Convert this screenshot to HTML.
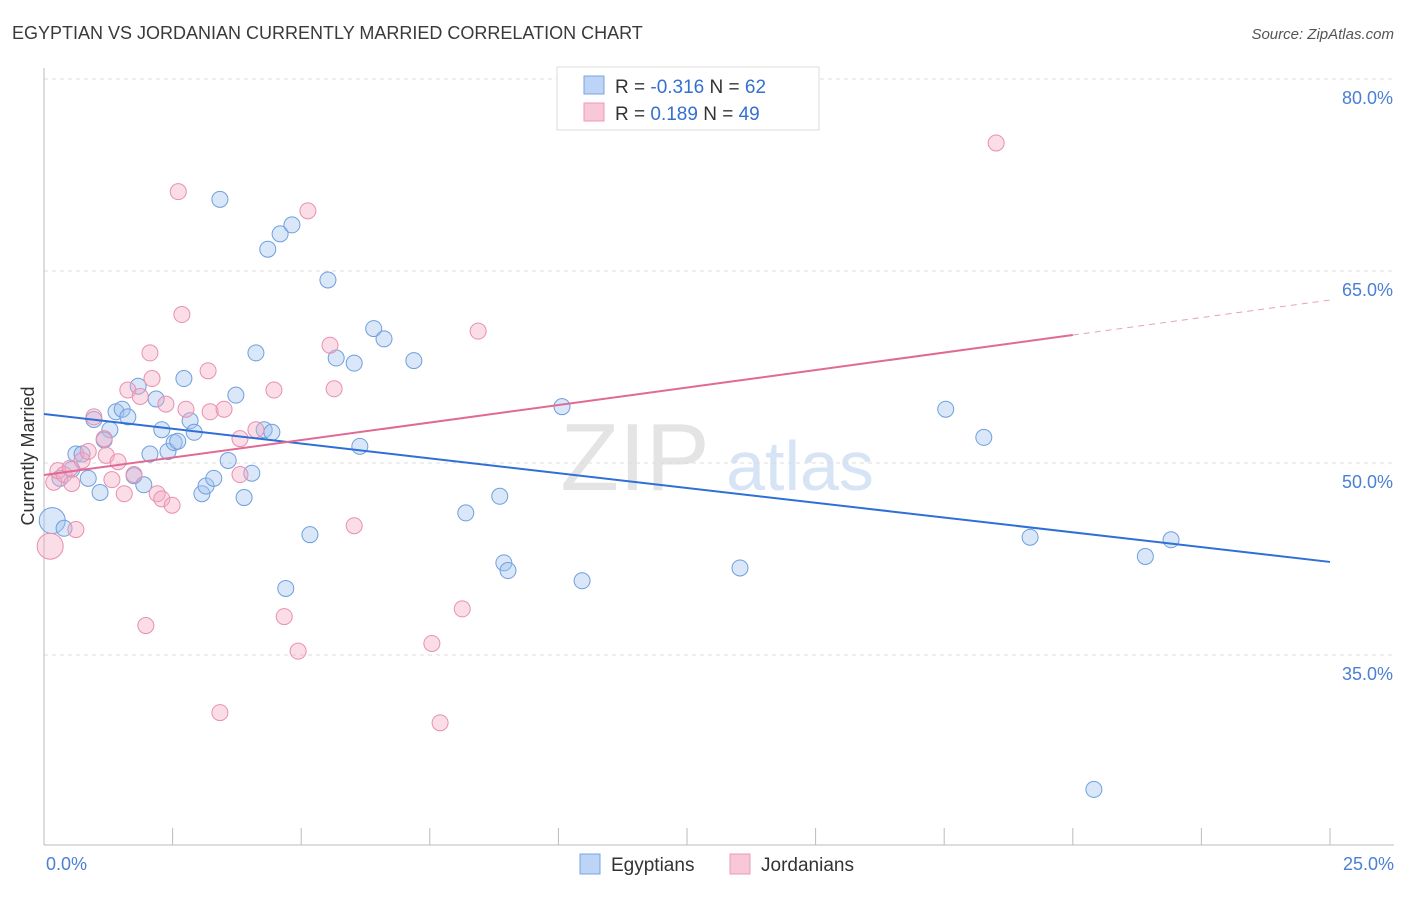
<!DOCTYPE html>
<html><head><meta charset="utf-8"><style>
body{margin:0;background:#fff;font-family:"Liberation Sans",sans-serif}
svg text{font-family:"Liberation Sans",sans-serif}
</style></head><body>
<svg id="chart" width="1406" height="892">
<text x="12" y="39" font-size="18" fill="#3a3a3a">EGYPTIAN VS JORDANIAN CURRENTLY MARRIED CORRELATION CHART</text>
<text x="1394" y="39" font-size="15" fill="#555" font-style="italic" text-anchor="end">Source: ZipAtlas.com</text>
<text x="635" y="490" font-size="96" fill="#e4e4e4" font-family="Liberation Serif" text-anchor="middle">ZIP</text>
<text x="800" y="490" font-size="70" fill="#d6e4f5" text-anchor="middle">atlas</text>
<text transform="translate(34,456) rotate(-90)" font-size="18" fill="#333" text-anchor="middle">Currently Married</text>
<g id="grid"></g><g id="axes"></g><g id="marks"></g>
<g>
<rect x="557" y="67" width="262" height="63" fill="#fff" stroke="#ddd"/>
<rect x="584" y="76" width="20" height="18" fill="#bcd4f5" stroke="#7aa5e0"/>
<rect x="584" y="103" width="20" height="18" fill="#f8c8d8" stroke="#ec9ab8"/>
<text x="615" y="93" font-size="19" fill="#333">R = <tspan fill="#3470d0">-0.316</tspan>   N = <tspan fill="#3470d0">62</tspan></text>
<text x="615" y="120" font-size="19" fill="#333">R =   <tspan fill="#3470d0">0.189</tspan>   N = <tspan fill="#3470d0">49</tspan></text>
</g>
<g>
<rect x="580" y="854" width="20" height="20" fill="#bcd4f5" stroke="#7aa5e0"/>
<text x="611" y="871" font-size="19" fill="#333">Egyptians</text>
<rect x="730" y="854" width="20" height="20" fill="#f8c8d8" stroke="#ec9ab8"/>
<text x="761" y="871" font-size="19" fill="#333">Jordanians</text>
</g>
</svg>
<script>
const yTicks=[35,50,65,80];
const yTickLabels=["35.0%","50.0%","65.0%","80.0%"];
const xTickLabels=["0.0%","25.0%"];
const egyX=[0.16,0.39,0.31,0.54,0.62,0.74,0.86,1.09,0.97,1.28,1.17,1.40,1.52,1.63,1.75,1.83,1.94,2.06,2.18,2.29,2.41,2.53,2.6,2.72,2.84,2.92,3.07,3.15,3.3,3.42,3.58,3.73,3.89,4.04,4.12,4.28,4.35,4.43,4.59,4.82,4.7,5.17,5.52,5.68,6.03,6.14,6.41,6.61,7.19,8.2,8.86,8.94,9.02,10.07,10.46,13.53,17.53,18.27,19.17,20.41,21.41,21.91];
const egyY=[45.5,44.9,48.8,49.5,50.7,50.7,48.8,47.7,53.4,52.6,51.8,54.0,54.2,53.6,49.0,56.0,48.3,50.7,55.0,52.6,50.9,51.6,51.7,56.6,53.3,52.4,47.6,48.2,48.8,70.6,50.2,55.3,47.3,49.2,58.6,52.6,66.7,52.4,67.9,68.6,40.2,44.4,64.3,58.2,57.8,51.3,60.5,59.7,58.0,46.1,47.4,42.2,41.6,54.4,40.8,41.8,54.2,52.0,44.2,24.5,42.7,44.0];
const jorX=[0.12,0.19,0.27,0.39,0.51,0.54,0.62,0.74,0.86,0.97,1.17,1.21,1.32,1.44,1.56,1.63,1.75,1.87,1.98,2.06,2.1,2.2,2.29,2.37,2.49,2.61,2.68,2.76,3.19,3.23,3.42,3.5,3.81,3.81,4.12,4.47,4.67,4.94,5.13,5.56,5.64,6.03,7.54,7.7,8.13,8.44,18.51];
const jorY=[43.5,48.5,49.4,49.1,49.6,48.4,44.8,50.2,50.9,53.6,51.9,50.6,48.7,50.1,47.6,55.7,49.1,55.2,37.3,58.6,56.6,47.6,47.2,54.6,46.7,71.2,61.6,54.2,57.2,54.0,30.5,54.2,51.9,49.1,52.6,55.7,38.0,35.3,69.7,59.2,55.8,45.1,35.9,29.7,38.6,60.3,75.0];
const egyLine=[53.83,42.27];
const jorLine=[49.06,62.73];
const X=v=>44+v*51.44, Y=v=>463-(v-50)*12.8;
const NS="http://www.w3.org/2000/svg";
function mk(t,a,p){const e=document.createElementNS(NS,t);for(const k in a)e.setAttribute(k,a[k]);p.appendChild(e);return e;}
const grid=document.getElementById('grid'),axes=document.getElementById('axes'),marks=document.getElementById('marks');
yTicks.forEach((t,i)=>{
 const l=mk('line',{x1:44,x2:1394,y1:Y(t),y2:Y(t),stroke:'#ddd','stroke-dasharray':'4,4'},grid);
 
 
 const tx=mk('text',{x:1393,y:Y(t)+25,'font-size':18,fill:'#4a7fd4','text-anchor':'end'},axes);tx.textContent=yTickLabels[i];
 
 
});
mk('line',{x1:44,x2:44,y1:68,y2:845,stroke:'#bbb'},axes);
mk('line',{x1:44,x2:1394,y1:845,y2:845,stroke:'#bbb'},axes);
for(let i=1;i<=10;i++){const t=mk('line',{x1:X(i*2.5),x2:X(i*2.5),y1:828,y2:845,stroke:'#bbb'},axes);
 
 }
[[0,46,'start'],[1,1394,'end']].forEach(([i,x,a])=>{const t=mk('text',{x:x,y:870,'font-size':18,fill:'#4a7fd4','text-anchor':a},axes);t.textContent=xTickLabels[i];
 
 });
function pts(xs,ys,fill,stroke,name){xs.forEach((x,i)=>{const big=i===0;
 const c=mk('circle',{cx:X(x),cy:Y(ys[i]),r:big?13:8,fill:fill,stroke:stroke,'stroke-width':1},marks);
 
 });}
pts(egyX,egyY,'rgba(160,196,240,0.4)','#6f9fdd','egyptian-point');
pts(jorX,jorY,'rgba(245,170,195,0.4)','#e890b0','jordanian-point');
const bl=mk('line',{x1:X(0),y1:Y(egyLine[0]),x2:X(25),y2:Y(egyLine[1]),stroke:'#2f6fd6','stroke-width':2},marks);


const xe=20,ye=jorLine[0]+(jorLine[1]-jorLine[0])*xe/25;
const pl=mk('line',{x1:X(0),y1:Y(jorLine[0]),x2:X(xe),y2:Y(ye),stroke:'#e06a95','stroke-width':2},marks);


const pd=mk('line',{x1:X(xe),y1:Y(ye),x2:X(25),y2:Y(jorLine[1]),stroke:'#e8a0bb','stroke-width':1,'stroke-dasharray':'6,5'},marks);


</script>
</body></html>
